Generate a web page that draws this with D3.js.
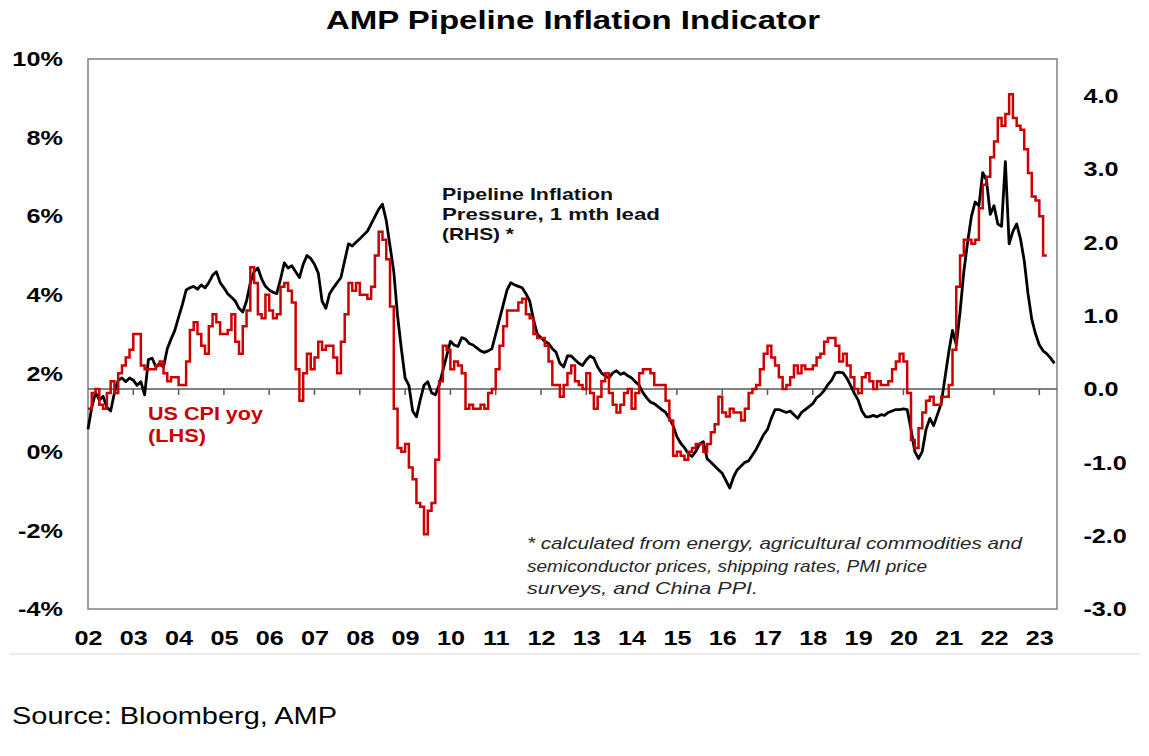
<!DOCTYPE html>
<html>
<head>
<meta charset="utf-8">
<script src="https://cdn.jsdelivr.net/npm/d3@7"></script>
<style>
  body { margin: 0; background: #fff; }
  svg { display: block; font-family: "Liberation Sans", Arial, sans-serif; }
</style>
</head>
<body>
<div id="chart"></div>
<script>
// CONSTANTS
const width = 1149;
const height = 756;
const margin = { top: 59, right: 92, bottom: 147, left: 88 };
const red = "#cc0000";

// DATA
// US CPI yoy (%), monthly from Jan 2002 to Mar 2023 (LHS)
const cpiYoy = [
  1.1, 1.1, 1.5, 1.6, 1.2, 1.1, 1.5, 1.8, 1.5, 2.0, 2.2, 2.4,
  2.6, 3.0, 3.0, 2.2, 2.1, 2.1, 2.1, 2.2, 2.3, 2.0, 1.8, 1.9,
  1.9, 1.7, 1.7, 2.3, 3.1, 3.3, 3.0, 2.7, 2.5, 3.2, 3.5, 3.3,
  3.0, 3.0, 3.1, 3.5, 2.8, 2.5, 3.2, 3.6, 4.7, 4.3, 3.5, 3.4,
  4.0, 3.6, 3.4, 3.5, 4.2, 4.3, 4.1, 3.8, 2.1, 1.3, 2.0, 2.5,
  2.1, 2.4, 2.8, 2.6, 2.7, 2.7, 2.4, 2.0, 2.8, 3.5, 4.3, 4.1,
  4.3, 4.0, 4.0, 3.9, 4.2, 5.0, 5.6, 5.4, 4.9, 3.7, 1.1, 0.1,
  0.0, 0.2, -0.4, -0.7, -1.3, -1.4, -2.1, -1.5, -1.3, -0.2, 1.8, 2.7,
  2.6, 2.1, 2.3, 2.2, 2.0, 1.1, 1.2, 1.1, 1.1, 1.2, 1.1, 1.5,
  1.6, 2.1, 2.7, 3.2, 3.6, 3.6, 3.6, 3.8, 3.9, 3.5, 3.4, 3.0,
  2.9, 2.9, 2.7, 2.3, 1.7, 1.7, 1.4, 1.7, 2.0, 2.2, 1.8, 1.7,
  1.6, 2.0, 1.5, 1.1, 1.4, 1.8, 2.0, 1.5, 1.2, 1.0, 1.2, 1.5,
  1.6, 1.1, 1.5, 2.0, 2.1, 2.1, 2.0, 1.7, 1.7, 1.7, 1.3, 0.8,
  -0.1, 0.0, -0.1, -0.2, 0.0, 0.1, 0.2, 0.2, 0.0, 0.2, 0.5, 0.7,
  1.4, 1.0, 0.9, 1.1, 1.0, 1.0, 0.8, 1.1, 1.5, 1.6, 1.7, 2.1,
  2.5, 2.7, 2.4, 2.2, 1.9, 1.6, 1.7, 1.9, 2.2, 2.0, 2.2, 2.1,
  2.1, 2.2, 2.4, 2.5, 2.8, 2.9, 2.9, 2.7, 2.3, 2.5, 2.2, 1.9,
  1.6, 1.5, 1.9, 2.0, 1.8, 1.6, 1.8, 1.7, 1.7, 1.8, 2.1, 2.3,
  2.5, 2.3, 1.5, 0.3, 0.1, 0.6, 1.0, 1.3, 1.4, 1.2, 1.2, 1.4,
  1.4, 1.7, 2.6, 4.2, 5.0, 5.4, 5.4, 5.3, 5.4, 6.2, 6.8, 7.0,
  7.5, 7.9, 8.5, 8.3, 8.6, 9.1, 8.5, 8.3, 8.2, 7.7, 7.1, 6.5,
  6.4, 6.0, 5.0
];

// Pipeline inflation pressure, 1 mth lead, monthly from Jan 2002 to May 2023 (RHS)
const pipeline = [
  -0.55, -0.25, -0.05, -0.15, -0.1, -0.25, -0.3, -0.05, 0.12, 0.15, 0.1, 0.15,
  0.12, 0.05, 0.1, -0.08, 0.4, 0.42, 0.3, 0.35, 0.3, 0.55, 0.68, 0.8,
  0.98, 1.15, 1.35, 1.38, 1.4, 1.36, 1.42, 1.38, 1.45, 1.55, 1.6, 1.45,
  1.38, 1.3, 1.25, 1.2, 1.1, 1.05, 1.2, 1.45, 1.6, 1.65, 1.5, 1.4,
  1.35, 1.32, 1.3, 1.5, 1.72, 1.65, 1.68, 1.6, 1.52, 1.7, 1.82, 1.78,
  1.7, 1.58, 1.2, 1.1, 1.3, 1.38, 1.45, 1.52, 1.75, 1.98, 1.95, 2.0,
  2.05, 2.1, 2.15, 2.25, 2.35, 2.45, 2.52, 2.3, 1.95, 1.6, 1.0, 0.55,
  0.15, 0.05, -0.3, -0.38, -0.15, 0.05, 0.1, -0.05, -0.08, 0.05, 0.25, 0.45,
  0.65, 0.6, 0.58, 0.7, 0.68, 0.62, 0.6, 0.56, 0.52, 0.5, 0.52, 0.55,
  0.75, 0.95, 1.15, 1.35, 1.45, 1.42, 1.4, 1.38, 1.3, 1.2, 0.95, 0.75,
  0.7, 0.65, 0.62, 0.55, 0.5, 0.35, 0.3, 0.45, 0.45, 0.4, 0.35, 0.32,
  0.4, 0.45, 0.42, 0.3, 0.22, 0.18, 0.15, 0.22, 0.25, 0.2, 0.22, 0.18,
  0.15, 0.1, 0.05, -0.05, -0.12, -0.18, -0.2, -0.24, -0.28, -0.32, -0.4, -0.5,
  -0.65, -0.74, -0.8, -0.88, -0.92, -0.85, -0.75, -0.72, -0.95, -1.0, -1.05, -1.1,
  -1.15, -1.25, -1.35, -1.2, -1.1, -1.05, -1.0, -0.98, -0.9, -0.82, -0.72, -0.62,
  -0.55, -0.4, -0.28, -0.28, -0.3, -0.32, -0.3, -0.35, -0.4, -0.32, -0.28, -0.24,
  -0.2, -0.12, -0.08, -0.02, 0.06, 0.12, 0.22, 0.23, 0.22, 0.15, 0.05, -0.06,
  -0.15, -0.3, -0.38, -0.38, -0.36, -0.38, -0.35, -0.36, -0.32, -0.3, -0.28, -0.28,
  -0.27, -0.28, -0.55, -0.85, -0.95, -0.85, -0.55, -0.4, -0.5, -0.35, -0.2, 0.15,
  0.5, 0.8, 0.6, 1.05, 1.6, 2.0, 2.35, 2.55, 2.5, 2.95, 2.85, 2.38,
  2.5, 2.25, 2.22, 3.1, 1.98, 2.15, 2.25, 2.05, 1.75, 1.3, 0.95, 0.75,
  0.6, 0.52, 0.48, 0.42, 0.35
];

const startYear = 2002;
const yearLabels = d3.range(2002, 2024);
const leftTicks = [-4, -2, 0, 2, 4, 6, 8, 10];
const rightTicks = [-3, -2, -1, 0, 1, 2, 3, 4];

const footnote = [
  "* calculated from energy, agricultural commodities and",
  "semiconductor prices, shipping rates, PMI price",
  "surveys, and China PPI."
];

const svg = d3
  .select("#chart")
  .append("svg")
  .attr("width", width)
  .attr("height", height);

const x = d3
  .scaleLinear()
  .domain([2002, 2023.39])
  .range([margin.left, width - margin.right]);

const yLeft = d3
  .scaleLinear()
  .domain([-4, 10])
  .range([height - margin.bottom, margin.top]);

const yRight = d3
  .scaleLinear()
  .domain([-3, 4.5])
  .range([height - margin.bottom, margin.top]);

const monthTime = (i) => startYear + i / 12;

// the original picture is stretched sideways a little, so widen the tick labels
const stretchLabels = (axis) => {
  axis.select(".domain").remove();
  axis
    .selectAll("text")
    .style("font-size", "21px")
    .style("font-weight", "bold")
    .attr("fill", "#000")
    .attr("transform", "scale(1.2,1)");
};

// title
svg
  .append("text")
  .attr("x", 573)
  .attr("y", 29)
  .attr("text-anchor", "middle")
  .attr("textLength", 494)
  .attr("lengthAdjust", "spacingAndGlyphs")
  .style("font-size", "25px")
  .style("font-weight", "bold")
  .text("AMP Pipeline Inflation Indicator");

// plot frame
svg
  .append("rect")
  .attr("x", margin.left)
  .attr("y", margin.top)
  .attr("width", width - margin.left - margin.right)
  .attr("height", height - margin.top - margin.bottom)
  .attr("fill", "none")
  .attr("stroke", "#808080")
  .attr("stroke-width", 1.5);

// left axis
svg
  .append("g")
  .attr("transform", `translate(${margin.left},0)`)
  .call(
    d3.axisLeft(yLeft).tickValues(leftTicks).tickSize(0).tickPadding(21)
      .tickFormat((d) => d + "%")
  )
  .call(stretchLabels);

// right axis
svg
  .append("g")
  .attr("transform", `translate(${width - margin.right},0)`)
  .call(
    d3.axisRight(yRight).tickValues(rightTicks).tickSize(0).tickPadding(22)
      .tickFormat((d) => d.toFixed(1))
  )
  .call(stretchLabels);

// zero line (RHS) with year ticks
svg
  .append("line")
  .attr("x1", margin.left)
  .attr("x2", width - margin.right)
  .attr("y1", yRight(0))
  .attr("y2", yRight(0))
  .attr("stroke", "#595959")
  .attr("stroke-width", 1.5);

svg
  .append("g")
  .selectAll("line")
  .data(yearLabels.slice(1))
  .join("line")
  .attr("x1", (d) => x(d))
  .attr("x2", (d) => x(d))
  .attr("y1", yRight(0))
  .attr("y2", yRight(0) + 6)
  .attr("stroke", "#595959")
  .attr("stroke-width", 1.5);

// bottom year labels
svg
  .append("g")
  .attr("transform", `translate(0,${height - margin.bottom})`)
  .call(
    d3.axisBottom(x).tickValues(yearLabels).tickSize(0).tickPadding(21)
      .tickFormat((d) => String(d).slice(2))
  )
  .call(stretchLabels);

// lines
const pipelineLine = d3
  .line()
  .x((d, i) => x(monthTime(i)))
  .y((d) => yRight(d));

const cpiLine = d3
  .line()
  .curve(d3.curveStepBefore)
  .x((d, i) => x(monthTime(i)))
  .y((d) => yLeft(d));

svg
  .append("path")
  .datum(pipeline)
  .attr("fill", "none")
  .attr("stroke", "#000")
  .attr("stroke-width", 2.8)
  .attr("stroke-linejoin", "round")
  .attr("d", pipelineLine);

svg
  .append("path")
  .datum(cpiYoy)
  .attr("fill", "none")
  .attr("stroke", red)
  .attr("stroke-width", 2.5)
  .attr("d", cpiLine);

// series labels
const pipeLabel = svg
  .append("text")
  .style("font-size", "17px")
  .style("font-weight", "bold")
  .attr("fill", "#111");
[
  ["Pipeline Inflation", 200, 171],
  ["Pressure, 1 mth lead", 220, 218],
  ["(RHS) *", 240, 72],
].forEach(([t, yy, w]) => {
  pipeLabel
    .append("tspan")
    .attr("x", 442)
    .attr("y", yy)
    .attr("textLength", w)
    .attr("lengthAdjust", "spacingAndGlyphs")
    .text(t);
});

const cpiLabel = svg
  .append("text")
  .style("font-size", "18px")
  .style("font-weight", "bold")
  .attr("fill", red);
[
  ["US CPI yoy", 420, 115],
  ["(LHS)", 442, 58],
].forEach(([t, yy, w]) => {
  cpiLabel
    .append("tspan")
    .attr("x", 148)
    .attr("y", yy)
    .attr("textLength", w)
    .attr("lengthAdjust", "spacingAndGlyphs")
    .text(t);
});

// footnote
svg
  .append("g")
  .selectAll("text")
  .data(footnote)
  .join("text")
  .attr("x", 527)
  .attr("y", (d, i) => 549 + i * 22.5)
  .attr("textLength", (d, i) => [495, 400, 231][i])
  .attr("lengthAdjust", "spacingAndGlyphs")
  .style("font-size", "17px")
  .style("font-style", "italic")
  .attr("fill", "#262626")
  .text((d) => d);

// separator and source
svg
  .append("line")
  .attr("x1", 10)
  .attr("x2", 1140)
  .attr("y1", 654)
  .attr("y2", 654)
  .attr("stroke", "#ececec")
  .attr("stroke-width", 2);

svg
  .append("text")
  .attr("x", 12)
  .attr("y", 724)
  .attr("textLength", 325)
  .attr("lengthAdjust", "spacingAndGlyphs")
  .style("font-size", "24px")
  .attr("fill", "#000")
  .text("Source: Bloomberg, AMP");
</script>
</body>
</html>
